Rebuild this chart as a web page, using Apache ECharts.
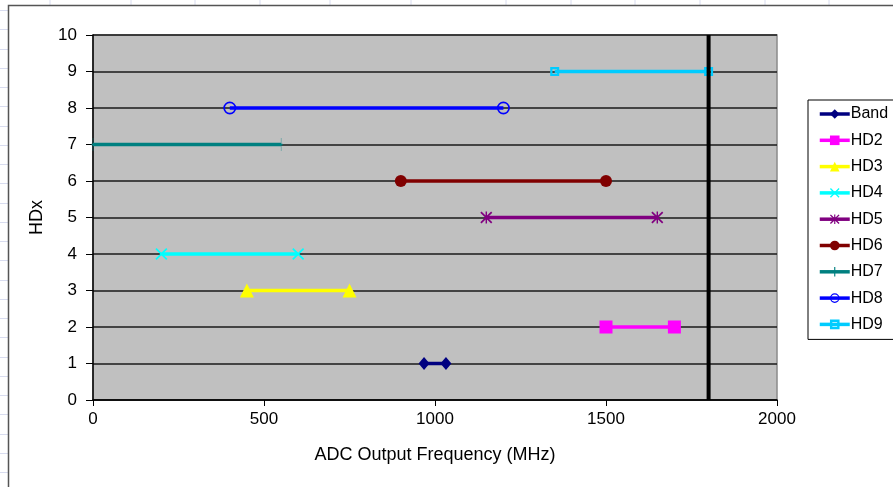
<!DOCTYPE html>
<html>
<head>
<meta charset="utf-8">
<script src="https://cdn.jsdelivr.net/npm/echarts@6/dist/echarts.min.js"></script>
<style>
html,body{margin:0;padding:0;background:#fff;}
#c{width:893px;height:487px;}
</style>
</head>
<body>
<div id="c"></div>
<script>
// ---- data ----
var seriesNames = ['Band','HD2','HD3','HD4','HD5','HD6','HD7','HD8','HD9'];
var levels     = [1, 2, 3, 4, 5, 6, 7, 8, 9];
var startFreq  = [968, 1500, 450, 200, 1150, 900, 0, 400, 1350];
var endFreq    = [1032, 1700, 750, 600, 1650, 1500, 550, 1200, 1800];
var cutoffFreq = [1800];
var cutoffRange = [0, 10];
var xTicks = [0, 500, 1000, 1500, 2000];
var yTicks = [0, 1, 2, 3, 4, 5, 6, 7, 8, 9, 10];

// ---- styles ----
var colors = ['#000080','#FF00FF','#FFFF00','#00FFFF','#800080','#800000','#008080','#0000FF','#00CCFF'];
var symbols = [
  'diamond',
  'rect',
  'triangle',
  'path://M0,1L1,0L5,4L9,0L10,1L6,5L10,9L9,10L5,6L1,10L0,9L4,5Z',
  'path://M0,1L1,0L5,4L9,0L10,1L6,5L10,9L9,10L5,6L1,10L0,9L4,5Z M4.4,0L5.6,0L5.6,10L4.4,10Z',
  'circle',
  'path://M4.4,0L5.6,0L5.6,4.4L10,4.4L10,5.6L5.6,5.6L5.6,10L4.4,10L4.4,5.6L0,5.6L0,4.4L4.4,4.4Z',
  'path://M5,0A5,5,0,1,1,5,10A5,5,0,1,1,5,0ZM5,1.3A3.7,3.7,0,1,0,5,8.7A3.7,3.7,0,1,0,5,1.3Z',
  'path://M0,0L10,0L10,10L0,10ZM2.5,2.5L2.5,7.5L7.5,7.5L7.5,2.5Z'
];
var symbolSizes = [[11,13], 13, 14, 12, 12, 12, [3,13], 13, 9];

var series = seriesNames.map(function(n, i){
  return {
    name: n,
    type: 'line',
    data: [[startFreq[i], levels[i]], [endFreq[i], levels[i]]],
    symbol: symbols[i],
    symbolSize: symbolSizes[i],
    showAllSymbol: true,
    lineStyle: {color: colors[i], width: 3.5},
    itemStyle: {color: colors[i]},
    emphasis: {disabled: true},
    z: 3
  };
});
series.push({
  name: 'cutoff',
  type: 'line',
  data: [[cutoffFreq[0], cutoffRange[0]], [cutoffFreq[0], cutoffRange[1]]],
  symbol: 'none',
  lineStyle: {color: '#000', width: 4},
  z: 4,
  emphasis: {disabled: true}
});

// decoration: spreadsheet grid behind chart
var graphics = [];
var colX = [50, 131, 195, 260, 330, 411, 506, 571, 635, 700, 765, 829];
colX.forEach(function(x){
  graphics.push({type:'line', shape:{x1:x,y1:0,x2:x,y2:5}, style:{stroke:'#d8dcef', lineWidth:1}, silent:true, z:-10});
});
for (var yy = 10; yy < 487; yy += 19.25) {
  graphics.push({type:'line', shape:{x1:0,y1:Math.round(yy)+0.5,x2:8,y2:Math.round(yy)+0.5}, style:{stroke:'#d8dcef', lineWidth:1}, silent:true, z:-10});
}
graphics.push({type:'rect', shape:{x:8.5,y:5.5,width:900,height:500}, style:{fill:'#fff', stroke:'#555', lineWidth:1.5}, silent:true, z:-9});

var chart = echarts.init(document.getElementById('c'));
chart.setOption({
  animation: false,
  backgroundColor: '#fff',
  textStyle: {fontFamily: 'Liberation Sans, Arial, sans-serif'},
  graphic: graphics,
  grid: {
    left: 93, top: 35, right: 116, bottom: 87,
    show: true, backgroundColor: '#C0C0C0', borderColor: '#8a8a8a', borderWidth: 1.5,
    containLabel: false
  },
  legend: {
    data: seriesNames,
    orient: 'vertical',
    left: 808, top: 100,
    padding: [5, 40, 6, 10],
    itemWidth: 30, itemHeight: 12, itemGap: 8.3,
    backgroundColor: '#fff',
    borderColor: '#000', borderWidth: 1,
    lineStyle: {width: 3.5},
    textStyle: {fontSize: 16, lineHeight: 18, color: '#000', padding: [0,0,0,-4]},
    selectedMode: false
  },
  xAxis: {
    type: 'value', min: xTicks[0], max: xTicks[xTicks.length-1], interval: xTicks[1]-xTicks[0],
    name: 'ADC Output Frequency (MHz)', nameLocation: 'middle', nameGap: 46,
    nameTextStyle: {fontSize: 18, color: '#000'},
    axisLine: {show: true, onZero: false, lineStyle: {color: '#000', width: 1.5}},
    axisTick: {show: true, inside: false, length: 6, lineStyle: {color: '#000'}},
    axisLabel: {fontSize: 17, color: '#000', margin: 11, formatter: function(v){ return String(v); }},
    splitLine: {show: false}
  },
  yAxis: {
    type: 'value', min: yTicks[0], max: yTicks[yTicks.length-1], interval: yTicks[1]-yTicks[0],
    name: 'HDx', nameLocation: 'middle', nameGap: 47,
    nameTextStyle: {fontSize: 18, color: '#000'},
    axisLine: {show: true, onZero: false, lineStyle: {color: '#000', width: 1.5}},
    axisTick: {show: true, inside: false, length: 7, lineStyle: {color: '#000'}},
    axisLabel: {fontSize: 17, color: '#000', margin: 16, formatter: function(v){ return String(v); }},
    splitLine: {show: true, lineStyle: {color: '#1a1a1a', width: 1.5}}
  },
  series: series
});
</script>
</body>
</html>
